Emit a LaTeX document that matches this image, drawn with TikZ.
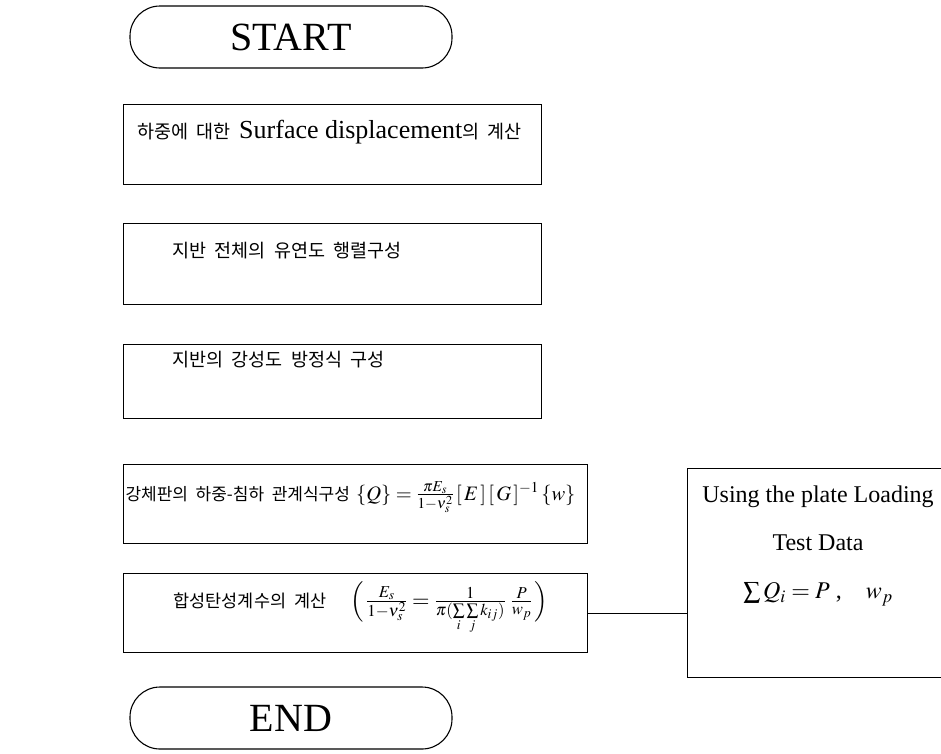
\documentclass[tikz,border=0pt]{standalone}
\usepackage{mathptmx}
\usepackage{fontspec}
\setmainfont{Liberation Serif}
\newfontfamily\kr[WordSpace=2]{Noto Sans CJK KR}
\usetikzlibrary{positioning}

\begin{document}
\begin{tikzpicture}[x=1pt,y=-1pt,line width=1.1pt,inner sep=0pt]
  \tikzstyle{terminal}=[draw,rounded corners=30pt,minimum width=322pt,minimum height=62pt,font=\fontsize{40}{44}\selectfont]
  \tikzstyle{stepbox}=[draw,anchor=north west,minimum height=80pt]
  \tikzstyle{steptext}=[anchor=base west,font=\kr\fontsize{18.5}{22}\selectfont]
  \tikzstyle{latin}=[font=\fontsize{24}{28}\selectfont]
  \useasboundingbox (0,0) rectangle (941,753);

  \node[terminal] (start) at (291,37) {START};

  \node[stepbox,minimum width=418pt] (disp) at (123,104) {};
  \node[steptext] (disptext) at (137,138) {하중에 대한 {\rmfamily\fontsize{26}{30}\selectfont Surface displacement}의 계산};

  \node[stepbox,minimum width=418pt,minimum height=81pt] (flex) at (123,223) {};
  \node[steptext] (flextext) at (172,257) {지반 전체의 유연도 행렬구성};

  \node[stepbox,minimum width=418pt,minimum height=74pt] (stiff) at (123,344) {};
  \node[steptext] (stifftext) at (172,366) {지반의 강성도 방정식 구성};

  \node[stepbox,minimum width=464pt,minimum height=79pt] (plate) at (123,464) {};
  \node[steptext,font=\kr\fontsize{17}{20}\selectfont] (platetext) at (125,500) {강체판의 하중-침하 관계식구성\hspace{6pt}%
    {\fontsize{20.5}{24}\selectfont $\{Q\}=\frac{\pi E_s}{1-\nu_s^2}\,[\,E\,]\,[\,G\,]^{-1}\,\{w\}$}};

  \node[stepbox,minimum width=464pt,minimum height=79pt] (modul) at (123,573) {};
  \node[steptext,font=\kr\fontsize{17.5}{21}\selectfont] (modultext) at (173,607) {합성탄성계수의 계산\hspace{24pt}%
    {\fontsize{22.5}{26}\selectfont $\Bigl(\,\frac{E_s}{1-\nu_s^2}=\frac{1}{\pi(\sum\limits_i\sum\limits_j k_{ij})}\;\frac{P}{w_p}\,\Bigr)$}};

  % plate loading test box, cut by the right margin
  \node[stepbox,minimum width=270pt,minimum height=209pt] (data) at (687,468) {};
  \node[latin,align=center] (datatext) at (818,546) {Using the plate Loading\\[20pt] Test Data\\[20pt] $\sum Q_i=P$ ,\quad $w_p$};

  \node[terminal] (end) at (291,718) {END};

  \draw (modul.east) -- (modul.east -| data.west);
\end{tikzpicture}
\end{document}
